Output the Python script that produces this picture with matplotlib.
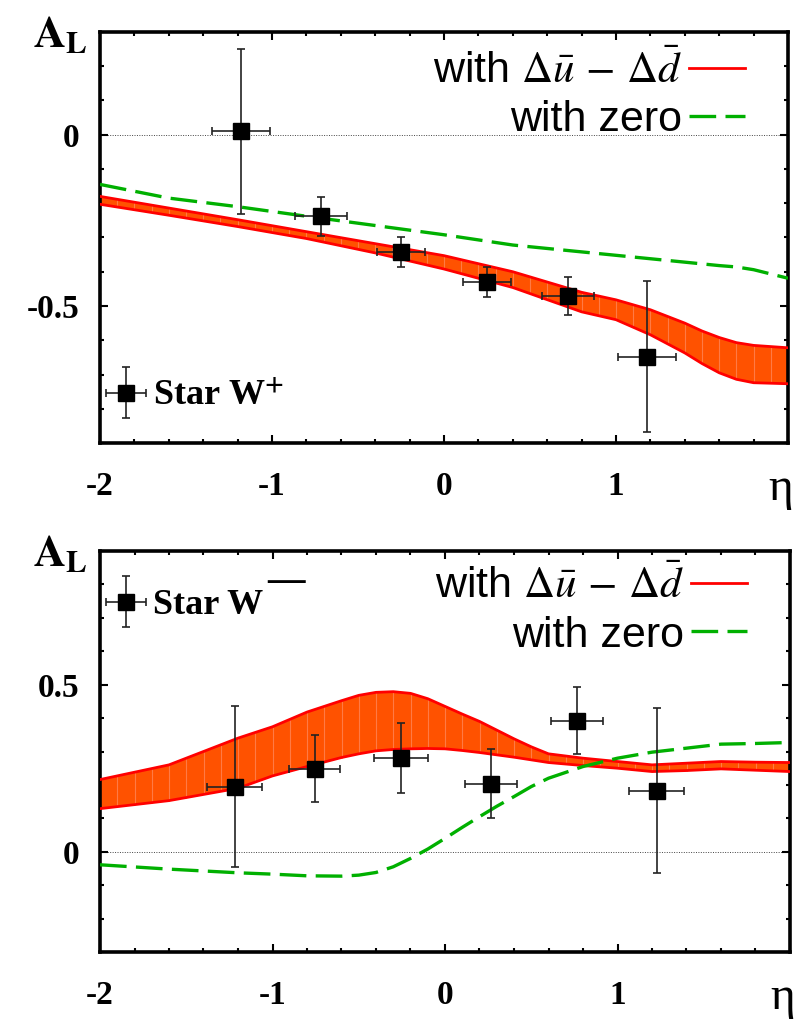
import matplotlib
matplotlib.use("Agg")
import matplotlib.pyplot as plt
import numpy as np
from matplotlib.legend_handler import HandlerErrorbar

plt.rcParams['axes.unicode_minus'] = False

# ---- W+ panel ----
eta_p = [-2.0, -1.6, -1.2, -0.8, -0.4, 0.0, 0.4, 0.8, 1.0, 1.2, 1.4, 1.5, 1.6, 1.7, 1.8, 2.0]
band_hi_p = [-0.18, -0.214, -0.248, -0.283, -0.318, -0.353, -0.40, -0.46, -0.482, -0.511, -0.55, -0.573, -0.592, -0.607, -0.615, -0.622]
band_lo_p = [-0.203, -0.235, -0.268, -0.303, -0.345, -0.392, -0.446, -0.517, -0.54, -0.584, -0.637, -0.668, -0.695, -0.714, -0.724, -0.727]
zero_p = [-0.145, -0.185, -0.21, -0.238, -0.265, -0.292, -0.322, -0.342, -0.352, -0.362, -0.372, -0.377, -0.382, -0.386, -0.394, -0.419]

star_eta_p = [-1.18, -0.715, -0.25, 0.25, 0.72, 1.18]
star_al_p = [0.01, -0.238, -0.343, -0.43, -0.471, -0.648]
star_yerr_p = [0.24, 0.057, 0.044, 0.045, 0.056, 0.22]
star_xerr_p = [0.17, 0.15, 0.14, 0.14, 0.15, 0.17]

# ---- W- panel ----
eta_m = [-2.0, -1.6, -1.2, -1.0, -0.8, -0.6, -0.5, -0.4, -0.3, -0.2, -0.1, 0.0, 0.1, 0.2, 0.3, 0.4, 0.5, 0.6,
         0.8, 1.0, 1.2, 1.4, 1.6, 1.8, 2.0]
band_hi_m = [0.216, 0.26, 0.34, 0.374, 0.418, 0.452, 0.468, 0.477, 0.479, 0.474, 0.458, 0.435, 0.412, 0.39, 0.364,
             0.338, 0.314, 0.293, 0.28, 0.27, 0.26, 0.265, 0.27, 0.268, 0.267]
band_lo_m = [0.129, 0.153, 0.19, 0.227, 0.255, 0.282, 0.293, 0.302, 0.306, 0.308, 0.309, 0.308, 0.303, 0.297, 0.29,
             0.283, 0.275, 0.267, 0.258, 0.25, 0.24, 0.243, 0.248, 0.244, 0.24]
zero_m = [-0.039, -0.052, -0.063, -0.067, -0.072, -0.073, -0.07, -0.062, -0.045, -0.02, 0.008, 0.04, 0.073, 0.105, 0.136,
          0.165, 0.195, 0.22, 0.255, 0.28, 0.298, 0.31, 0.322, 0.324, 0.327]

star_eta_m = [-1.22, -0.756, -0.256, 0.267, 0.767, 1.227]
star_al_m = [0.195, 0.248, 0.281, 0.204, 0.392, 0.183]
star_yerr_m = [0.24, 0.1, 0.105, 0.103, 0.1, 0.246]
star_xerr_m = [0.16, 0.15, 0.155, 0.15, 0.15, 0.16]

SERIF = 'Liberation Serif'
SANS = 'Liberation Sans'


def draw_panel(ax, eta, hi, lo, zero, sx, sy, syerr, sxerr, ylim, yticks, leg_top):
  ax.set_xlim(-2, 2)
  ax.set_ylim(*ylim)
  ax.axhline(0, color='#444444', lw=0.7, ls=(0, (1, 1.5)), zorder=1)

  ax.fill_between(eta, lo, hi, color='#ff5200', lw=0, zorder=2)
  # faint vertical stripes of the filled band
  xs = np.arange(-1.9, 2.0, 0.1)
  ax.vlines(xs, np.interp(xs, eta, lo), np.interp(xs, eta, hi),
            color='#ff7a45', lw=0.8, zorder=2.1)
  ax.plot(eta, hi, color='#ff0000', lw=2.0, zorder=3,
          label=r'with $\Delta\bar{u}\,-\,\Delta\bar{d}$')
  ax.plot(eta, lo, color='#ff0000', lw=2.0, zorder=3)
  ax.plot(eta, zero, color='#00b000', lw=2.4, ls=(0, (8, 2.8)), zorder=3,
          label='with zero')

  eb = ax.errorbar(sx, sy, yerr=syerr, xerr=sxerr, fmt='s', color='black',
                   ecolor='#222222', elinewidth=1.2, capsize=3, capthick=1.2,
                   markersize=12, zorder=5)

  ax.set_xticks([-2, -1, 0, 1])
  ax.set_xticks(np.arange(-2, 2.01, 0.2), minor=True)
  ax.set_yticks(yticks)
  ax.set_yticks(np.arange(ylim[0], ylim[1] + 0.01, 0.1), minor=True)
  ax.set_yticklabels(['0' if v == 0 else f'{v:g}' for v in yticks])
  ax.tick_params(which='both', direction='in', top=True, right=True, width=1.5)
  ax.tick_params(which='major', length=5.5, labelsize=24, pad=15)
  ax.tick_params(which='minor', length=3)
  ax.tick_params(axis='x', pad=20)
  for lab in ax.get_xticklabels() + ax.get_yticklabels():
    lab.set_fontfamily(SERIF)
    lab.set_fontweight('bold')
  for s in ax.spines.values():
    s.set_linewidth(2.6)

  leg = ax.legend(loc='upper right', bbox_to_anchor=(0.937, leg_top), frameon=False,
                  markerfirst=False, handlelength=1.3, handletextpad=0.15,
                  labelspacing=0.19, borderpad=0, borderaxespad=0,
                  prop={'family': SANS, 'size': 31})
  for t in leg.get_texts():
    t.set_math_fontfamily('stix')
  ax.add_artist(leg)

  return eb


fig = plt.figure(figsize=(7.99, 10.19), dpi=100)
ax1 = fig.add_axes([100 / 799, 576 / 1019, 688 / 799, 411 / 1019])
ax2 = fig.add_axes([100 / 799, 67 / 1019, 690 / 799, 401 / 1019])

eb1 = draw_panel(ax1, eta_p, band_hi_p, band_lo_p, zero_p, star_eta_p, star_al_p,
                 star_yerr_p, star_xerr_p, (-0.9, 0.3), [-0.5, 0], 0.955)
eb2 = draw_panel(ax2, eta_m, band_hi_m, band_lo_m, zero_m, star_eta_m, star_al_m,
                 star_yerr_m, star_xerr_m, (-0.3, 0.9), [0, 0.5], 0.963)

hm = {type(eb1): HandlerErrorbar(xerr_size=0.55, yerr_size=0.7)}
l1 = ax1.legend([eb1], [r'Star W$^{\mathbf{+}}$'], loc='lower left',
                bbox_to_anchor=(0.009, 0.072), frameon=False, handlelength=1.1,
                handletextpad=0.2, borderpad=0, borderaxespad=0, handler_map=hm,
                prop={'family': SERIF, 'weight': 'bold', 'size': 26})
for t in l1.get_texts():
  t.set_math_fontfamily('stix')

l2 = ax2.legend([eb2], ['Star W'], loc='upper left',
                bbox_to_anchor=(0.009, 0.905), frameon=False, handlelength=1.1,
                handletextpad=0.2, borderpad=0, borderaxespad=0, handler_map=hm,
                prop={'family': SERIF, 'weight': 'bold', 'size': 26})
# superscript minus of W-
ax2.text(0.27, 0.925, '\u2014', transform=ax2.transAxes, ha='center', va='center',
         fontsize=27, fontweight='bold', family=SERIF)

for ax in (ax1, ax2):
  ax.text(-0.058, 0.993, r'$\mathbf{A}_{\mathbf{L}}$', transform=ax.transAxes,
          ha='center', va='center', fontsize=32, math_fontfamily='stix')
  ax.annotate('\u03b7', xy=(0.99, 0), xycoords='axes fraction', xytext=(0, -41),
              textcoords='offset points', ha='center', va='baseline',
              fontsize=34, family=SERIF)

fig.savefig('out.png', dpi=100)
